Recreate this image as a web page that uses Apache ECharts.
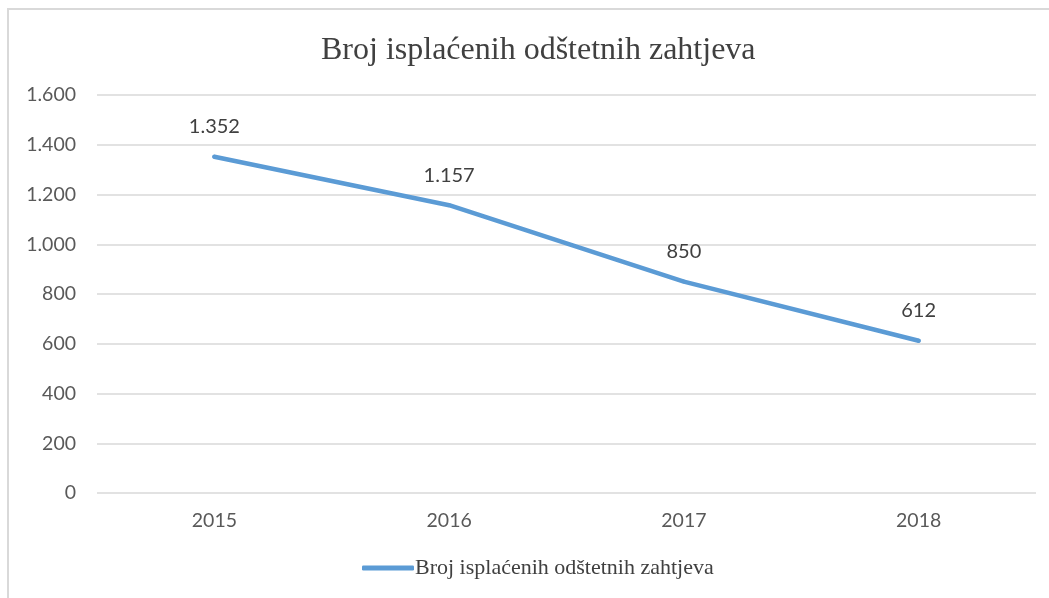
<!DOCTYPE html>
<html>
<head>
<meta charset="utf-8">
<script src="https://cdn.jsdelivr.net/npm/echarts@6/dist/echarts.min.js"></script>
<style>
  html, body { margin: 0; padding: 0; background: #fff; }
  #frame {
    position: absolute; left: 7px; top: 8px; right: 0; bottom: 0;
    border-left: 2px solid #d9d9d9; border-top: 2px solid #d9d9d9;
  }
  #chart { position: absolute; left: 0; top: 0; width: 1049px; height: 598px; }
</style>
</head>
<body>
<div id="frame"></div>
<div id="chart"></div>
<script>
const title = 'Broj isplaćenih odštetnih zahtjeva'
const years = ['2015', '2016', '2017', '2018']
const claims = [1352, 1157, 850, 612]

// 1352 -> "1.352"
const fmt = v => String(v).replace(/\B(?=(\d{3})+(?!\d))/g, '.')

const chart = echarts.init(document.getElementById('chart'))

chart.setOption({
  backgroundColor: 'transparent',
  title: {
    text: title,
    left: 316,
    top: 30,
    textStyle: {
      fontFamily: 'Liberation Serif',
      fontSize: 32,
      fontWeight: 'normal',
      color: '#404040'
    }
  },
  legend: {
    bottom: 14,
    left: 357,
    itemWidth: 52,
    itemHeight: 5,
    itemGap: 4,
    icon: 'roundRect',
    textStyle: {
      fontFamily: 'Liberation Serif',
      fontSize: 22,
      color: '#404040',
      padding: [0, 0, 0, -4]
    },
    data: [title]
  },
  grid: {
    left: 97,
    right: 13,
    top: 95,
    bottom: 105
  },
  xAxis: {
    type: 'category',
    data: years,
    boundaryGap: true,
    axisLine: { show: false },
    axisTick: { show: false },
    axisLabel: {
      margin: 18,
      fontFamily: 'Lato',
      fontSize: 19.5,
      color: '#595959'
    }
  },
  yAxis: {
    type: 'value',
    min: 0,
    max: 1600,
    interval: 200,
    axisLine: { show: false },
    axisTick: { show: false },
    axisLabel: {
      margin: 21,
      fontFamily: 'Lato',
      fontSize: 19.5,
      color: '#595959',
      formatter: fmt
    },
    splitLine: {
      lineStyle: { color: '#d9d9d9', width: 1.5 }
    }
  },
  series: [
    {
      name: title,
      type: 'line',
      data: claims,
      symbol: 'circle',
      symbolSize: 4,
      lineStyle: { color: '#5b9bd5', width: 4.5, cap: 'round' },
      itemStyle: { color: '#5b9bd5' },
      label: {
        show: true,
        position: 'top',
        distance: 18,
        fontFamily: 'Lato',
        fontSize: 20,
        color: '#404040',
        formatter: p => fmt(p.value)
      }
    }
  ]
})
</script>
</body>
</html>
